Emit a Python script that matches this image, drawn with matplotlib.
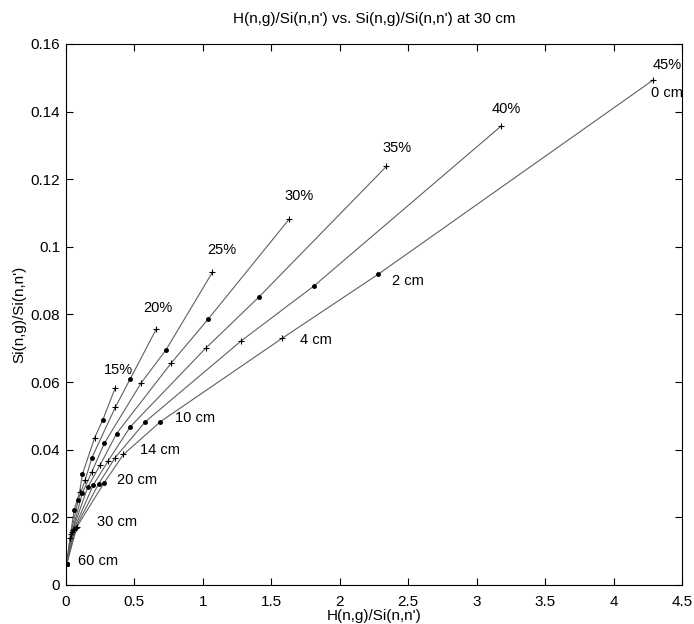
import matplotlib
matplotlib.use("Agg")
import matplotlib.pyplot as plt
import numpy as np

plt.rcParams['font.family'] = ['Liberation Sans', 'DejaVu Sans']

# depths (cm) along each curve, 0 cm at the outer end
depths = [0, 2, 4, 10, 14, 20, 30, 60]
moisture = ["15%", "20%", "25%", "30%", "35%", "40%", "45%"]

# H(n,g)/Si(n,n') per moisture, one value per depth
h15 = [0.36, 0.27, 0.21, 0.12, 0.10, 0.06, 0.030, 0.005]
h20 = [0.66, 0.47, 0.36, 0.19, 0.14, 0.09, 0.035, 0.005]
h25 = [1.07, 0.73, 0.55, 0.28, 0.19, 0.12, 0.045, 0.005]
h30 = [1.63, 1.04, 0.77, 0.37, 0.25, 0.16, 0.050, 0.006]
h35 = [2.34, 1.41, 1.02, 0.47, 0.31, 0.20, 0.060, 0.006]
h40 = [3.18, 1.81, 1.28, 0.58, 0.36, 0.24, 0.070, 0.006]
h45 = [4.29, 2.28, 1.58, 0.69, 0.42, 0.28, 0.080, 0.006]

# Si(n,g)/Si(n,n') per moisture
si15 = [0.0583, 0.0489, 0.0436, 0.0327, 0.0275, 0.0222, 0.0140, 0.0062]
si20 = [0.0757, 0.0610, 0.0525, 0.0377, 0.0310, 0.0252, 0.0150, 0.0062]
si25 = [0.0925, 0.0695, 0.0598, 0.0419, 0.0335, 0.0272, 0.0158, 0.0062]
si30 = [0.1082, 0.0787, 0.0657, 0.0448, 0.0355, 0.0290, 0.0163, 0.0062]
si35 = [0.1238, 0.0852, 0.0700, 0.0468, 0.0368, 0.0296, 0.0167, 0.0062]
si40 = [0.1358, 0.0884, 0.0722, 0.0483, 0.0377, 0.0300, 0.0170, 0.0062]
si45 = [0.1494, 0.0919, 0.0730, 0.0483, 0.0386, 0.0303, 0.0172, 0.0062]

hs = [h15, h20, h25, h30, h35, h40, h45]
sis = [si15, si20, si25, si30, si35, si40, si45]

# where the labels sit
moist_lab_x = [0.38, 0.672, 1.139, 1.70, 2.416, 3.212, 4.387]
moist_lab_y = [0.0636, 0.0819, 0.0990, 0.1149, 0.1291, 0.1408, 0.1538]
depth_labels = ["0 cm", "2 cm", "4 cm", "10 cm", "14 cm", "20 cm", "30 cm", "60 cm"]
depth_lab_x = [4.39, 2.38, 1.71, 0.80, 0.54, 0.37, 0.23, 0.09]
depth_lab_y = [0.1455, 0.0900, 0.0725, 0.0495, 0.0400, 0.0310, 0.0186, 0.0071]

fig = plt.figure(figsize=(6.94, 6.24), dpi=100)
ax = fig.add_axes([0.095, 0.0625, 0.888, 0.867])

for h, si in zip(hs, sis):
    h = np.array(h)
    si = np.array(si)
    ax.plot(h, si, color='#606060', lw=0.8, zorder=1)
    # 0,4,14,30 cm get a '+', 2,10,20,60 cm get a dot
    ax.plot(h[0::2], si[0::2], '+', color='black', ms=5, mew=0.8, zorder=2)
    ax.plot(h[1::2], si[1::2], '.', color='black', ms=5, zorder=2)

for x, y, lab in zip(moist_lab_x, moist_lab_y, moisture):
    ax.text(x, y, lab, fontsize=10.5, ha='center', va='center')

for i, (x, y, lab) in enumerate(zip(depth_lab_x, depth_lab_y, depth_labels)):
    ax.text(x, y, lab, fontsize=10.5, ha='center' if i == 0 else 'left', va='center')

ax.set_xlim(0, 4.5)
ax.set_ylim(0, 0.16)
ax.set_xticks(np.arange(0, 4.51, 0.5))
ax.set_xticklabels(["0", "0.5", "1", "1.5", "2", "2.5", "3", "3.5", "4", "4.5"])
ax.set_yticks(np.arange(0, 0.161, 0.02))
ax.set_yticklabels(["0", "0.02", "0.04", "0.06", "0.08", "0.1", "0.12", "0.14", "0.16"])
ax.tick_params(direction='in', top=True, right=True, labelsize=11, length=5, width=0.8)
ax.tick_params(axis='x', pad=7)
ax.tick_params(axis='y', pad=4)
for s in ax.spines.values():
    s.set_linewidth(0.8)
ax.set_xlabel("H(n,g)/Si(n,n')", fontsize=11, labelpad=0)
ax.set_ylabel("Si(n,g)/Si(n,n')", fontsize=11, labelpad=3)
ax.set_title("H(n,g)/Si(n,n') vs. Si(n,g)/Si(n,n') at 30 cm", fontsize=11, pad=15)

fig.savefig("out.png", dpi=100)
